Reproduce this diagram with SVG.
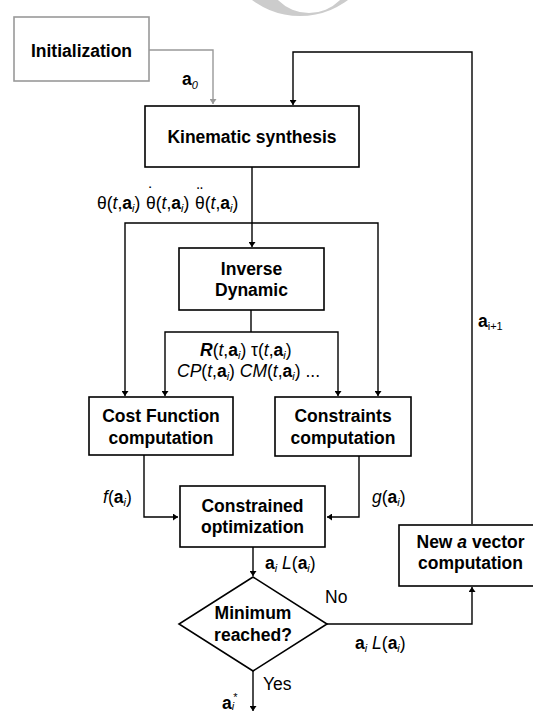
<svg xmlns="http://www.w3.org/2000/svg" width="533" height="712" viewBox="0 0 533 712">
<style>
.box{fill:#fff;stroke:#000;stroke-width:1.6}
.gbox{fill:#fff;stroke:#999;stroke-width:1.6}
.t{font-family:"Liberation Sans",Arial,sans-serif;font-weight:bold;font-size:17.5px;text-anchor:middle;fill:#000}
.l{font-family:"Liberation Sans",Arial,sans-serif;font-size:17.5px;fill:#000}
.c{fill:none;stroke:#000;stroke-width:1.4}
.g{fill:none;stroke:#999;stroke-width:1.4}
.b{font-weight:bold}
.s{font-size:11px;font-style:italic}
.i{font-style:italic}
</style>
<defs>
<marker id="ah" viewBox="0 0 10 10" refX="10" refY="5" markerWidth="5" markerHeight="7" markerUnits="userSpaceOnUse" orient="auto" preserveAspectRatio="none">
<path d="M0,0 L10,5 L0,10 z" fill="#000"/>
</marker>
<marker id="ahg" viewBox="0 0 10 10" refX="10" refY="5" markerWidth="5" markerHeight="7" markerUnits="userSpaceOnUse" orient="auto" preserveAspectRatio="none">
<path d="M0,0 L10,5 L0,10 z" fill="#999"/>
</marker>
</defs>
<rect width="533" height="712" fill="#fff"/>
<path d="M220,-64 a80,80 0 1,0 160,0 a80,80 0 1,0 -160,0 z M265.5,-30.5 a43.5,43.5 0 1,0 87,0 a43.5,43.5 0 1,0 -87,0 z" fill="#ccc" fill-rule="evenodd"/>

<g id="connectors">
<path class="g" d="M149,50 H213 V104" marker-end="url(#ahg)"/>
<path class="c" d="M472,524 V52 H293 V105" marker-end="url(#ah)"/>
<path class="c" d="M252,167 V247" marker-end="url(#ah)"/>
<path class="c" d="M252,223 H125 V396" marker-end="url(#ah)"/>
<path class="c" d="M252,223 H378 V396" marker-end="url(#ah)"/>
<path class="c" d="M251,310 V332"/>
<path class="c" d="M251,332 H165 V396" marker-end="url(#ah)"/>
<path class="c" d="M251,332 H338 V396" marker-end="url(#ah)"/>
<path class="c" d="M144,455 V517 H178" marker-end="url(#ah)"/>
<path class="c" d="M359,456 V517 H327" marker-end="url(#ah)"/>
<path class="c" d="M253,547 V576" marker-end="url(#ah)"/>
<path class="c" d="M327,624 H472 V587" marker-end="url(#ah)"/>
<path class="c" d="M253,671 V711" marker-end="url(#ah)"/>
</g>

<g id="labels">
<text class="l" x="182" y="85"><tspan class="b">a</tspan><tspan class="s" dy="4" font-size="12">0</tspan></text>
<text class="l" x="478" y="327"><tspan class="b">a</tspan><tspan font-size="11" dy="3">i+1</tspan></text>
<text class="l" y="209"><tspan x="97">θ(</tspan><tspan class="i">t</tspan>,<tspan class="b">a</tspan><tspan class="s" dy="3">i</tspan><tspan dy="-3">)</tspan><tspan x="146">θ</tspan><tspan dx="-7.7" dy="-9">˙</tspan><tspan dx="1.9" dy="9">(</tspan><tspan class="i">t</tspan>,<tspan class="b">a</tspan><tspan class="s" dy="3">i</tspan><tspan dy="-3">)</tspan><tspan x="195">θ</tspan><tspan dx="-7.7" dy="-9">¨</tspan><tspan dx="1.9" dy="9">(</tspan><tspan class="i">t</tspan>,<tspan class="b">a</tspan><tspan class="s" dy="3">i</tspan><tspan dy="-3">)</tspan></text>
<text class="l" x="200" y="356"><tspan class="b i">R</tspan>(<tspan class="i">t</tspan>,<tspan class="b">a</tspan><tspan class="s" dy="3">i</tspan><tspan dy="-3">) τ(</tspan><tspan class="i">t</tspan>,<tspan class="b">a</tspan><tspan class="s" dy="3">i</tspan><tspan dy="-3">)</tspan></text>
<text class="l" x="177" y="377"><tspan class="i">CP</tspan>(<tspan class="i">t</tspan>,<tspan class="b">a</tspan><tspan class="s" dy="3">i</tspan><tspan dy="-3">) </tspan><tspan class="i">CM</tspan>(<tspan class="i">t</tspan>,<tspan class="b">a</tspan><tspan class="s" dy="3">i</tspan><tspan dy="-3">) ...</tspan></text>
<text class="l" x="103" y="503"><tspan class="i">f</tspan>(<tspan class="b">a</tspan><tspan class="s" dy="3">i</tspan><tspan dy="-3">)</tspan></text>
<text class="l" x="372" y="503"><tspan class="i">g</tspan>(<tspan class="b">a</tspan><tspan class="s" dy="3">i</tspan><tspan dy="-3">)</tspan></text>
<text class="l" x="265" y="569"><tspan class="b">a</tspan><tspan class="s" dy="3">i</tspan><tspan dy="-3"> </tspan><tspan class="i">L</tspan>(<tspan class="b">a</tspan><tspan class="s" dy="3">i</tspan><tspan dy="-3">)</tspan></text>
<text class="l" x="355" y="649"><tspan class="b">a</tspan><tspan class="s" dy="3">i</tspan><tspan dy="-3"> </tspan><tspan class="i">L</tspan>(<tspan class="b">a</tspan><tspan class="s" dy="3">i</tspan><tspan dy="-3">)</tspan></text>
<text class="l" x="325" y="603">No</text>
<text class="l" x="263" y="690">Yes</text>
<text class="l" x="222" y="709"><tspan class="b">a</tspan><tspan class="s" font-size="9" dy="1">i</tspan><tspan font-size="11" dx="-1" dy="-9">*</tspan></text>
</g>

<g id="initialization">
<rect class="gbox" x="14" y="17" width="135" height="64"/>
<text class="t" x="81.5" y="57">Initialization</text>
</g>
<g id="kinematic">
<rect class="box" x="145" y="106" width="214" height="61"/>
<text class="t" x="252" y="143">Kinematic synthesis</text>
</g>
<g id="inverse">
<rect class="box" x="179" y="248" width="145" height="62"/>
<text class="t" x="251.5" y="275">Inverse</text>
<text class="t" x="251.5" y="296">Dynamic</text>
</g>
<g id="cost">
<rect class="box" x="89" y="397" width="144" height="58"/>
<text class="t" x="161" y="422">Cost Function</text>
<text class="t" x="161" y="444">computation</text>
</g>
<g id="constraints">
<rect class="box" x="275" y="397" width="136" height="59"/>
<text class="t" x="343" y="422">Constraints</text>
<text class="t" x="343" y="444">computation</text>
</g>
<g id="optimization">
<rect class="box" x="180" y="486" width="145" height="61"/>
<text class="t" x="252.5" y="512">Constrained</text>
<text class="t" x="252.5" y="533">optimization</text>
</g>
<g id="decision">
<polygon class="box" points="253,577 327,624 253,671 179,624"/>
<text class="t" x="253" y="619">Minimum</text>
<text class="t" x="253" y="641">reached?</text>
</g>
<g id="newvector">
<rect class="box" x="399" y="525" width="146" height="61"/>
<text class="t" x="470.5" y="548">New <tspan font-style="italic">a</tspan> vector</text>
<text class="t" x="470.5" y="569">computation</text>
</g>
</svg>
